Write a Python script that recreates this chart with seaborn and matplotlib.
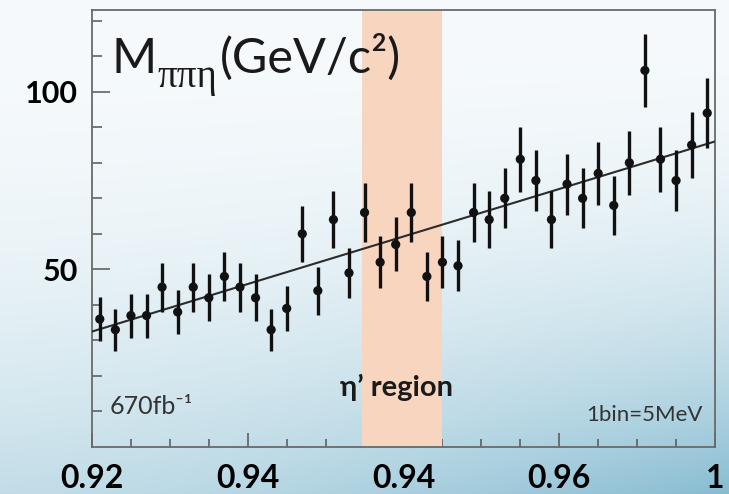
import numpy as np
import pandas as pd
import matplotlib
matplotlib.use("Agg")
import matplotlib.pyplot as plt
import seaborn as sns
from matplotlib.ticker import FixedLocator

# --- data ---------------------------------------------------------------
bin_centers = [0.921, 0.923, 0.925, 0.927, 0.929, 0.931, 0.933, 0.935,
               0.937, 0.939, 0.941, 0.943, 0.945, 0.947, 0.949, 0.951,
               0.953, 0.955, 0.957, 0.959, 0.961, 0.963, 0.965, 0.967,
               0.969, 0.971, 0.973, 0.975, 0.977, 0.979, 0.981, 0.983,
               0.985, 0.987, 0.989, 0.991, 0.993, 0.995, 0.997, 0.999]
counts = [36, 33, 37, 37, 45, 38, 45, 42, 48, 45,
          42, 33, 39, 60, 44, 64, 49, 66, 52, 57,
          66, 48, 52, 51, 66, 64, 70, 81, 75, 64,
          74, 70, 77, 68, 80, 106, 81, 75, 85, 94]
count_errors = [6.2, 5.9, 6.2, 6.2, 6.9, 6.3, 6.9, 6.6, 7.0, 6.9,
                6.6, 5.9, 6.4, 7.8, 6.8, 8.1, 7.1, 8.2, 7.3, 7.6,
                8.2, 7.0, 7.3, 7.2, 8.2, 8.1, 8.4, 9.1, 8.7, 8.1,
                8.6, 8.4, 8.8, 8.3, 9.0, 10.3, 9.1, 8.7, 9.3, 9.8]

fit_x = [0.92, 1.00]
fit_y = [32.5, 86.0]

eta_prime_region = [0.9547, 0.9650]

x_tick_values = [0.92, 0.94, 0.96, 0.98, 1.00]
x_tick_labels = ["0.92", "0.94", "0.94", "0.96", "1"]
y_tick_values = [50, 100]
y_tick_labels = ["50", "100"]

hist = pd.DataFrame({"mass": bin_centers, "events": counts, "err": count_errors})
fit = pd.DataFrame({"mass": fit_x, "events": fit_y})

# --- style --------------------------------------------------------------
sns.set_style("ticks")
plt.rcParams["font.family"] = ["Lato", "DejaVu Sans"]

fig = plt.figure(figsize=(7.29, 4.94), dpi=100)

# slide-like background gradient, darkening towards the lower right
bg = fig.add_axes([0, 0, 1, 1], zorder=-10)
h, w = 300, 450
yy, xx = np.mgrid[0:1:h * 1j, 0:1:w * 1j]
weight = np.clip(yy ** 2.2 * (0.45 + 0.5 * xx ** 1.5), 0, 1)
top = np.array([246, 250, 252]) / 255
bottom = np.array([130, 185, 207]) / 255
img = top[None, None, :] * (1 - weight[..., None]) + bottom[None, None, :] * weight[..., None]
bg.imshow(img, aspect="auto", extent=[0, 1, 0, 1], origin="upper")
bg.set_axis_off()

ax = fig.add_axes([92 / 729, 47 / 494, 623 / 729, 437 / 494])
ax.set_facecolor("none")

ax.axvspan(*eta_prime_region, color="#F7D5BF", zorder=1, lw=0)

sns.lineplot(data=fit, x="mass", y="events", ax=ax, color="#2b2b2b",
             lw=1.5, zorder=3)
ax.errorbar(hist["mass"], hist["events"], yerr=hist["err"], fmt="none",
            ecolor="#111111", elinewidth=2.4, capsize=0, zorder=4)
sns.scatterplot(data=hist, x="mass", y="events", ax=ax, color="#111111",
                s=44, edgecolor="none", zorder=5)

ax.set_xlim(0.92, 1.00)
ax.set_ylim(0, 123)
ax.set_xlabel("")
ax.set_ylabel("")

ax.xaxis.set_major_locator(FixedLocator(x_tick_values))
ax.set_xticklabels(x_tick_labels)
ax.xaxis.set_minor_locator(FixedLocator(
    [v for v in np.arange(0.925, 1.0, 0.005) if min(abs(v - t) for t in x_tick_values) > 1e-6]))
ax.yaxis.set_major_locator(FixedLocator(y_tick_values))
ax.set_yticklabels(y_tick_labels)
ax.yaxis.set_minor_locator(FixedLocator([10, 20, 30, 40, 60, 70, 80, 90, 110, 120]))

ax.tick_params(axis="x", which="major", direction="in", length=10, width=1.1,
               color="#555555", pad=12, labelsize=23, labelcolor="black")
ax.tick_params(axis="x", which="minor", direction="in", length=5.5, width=1.1,
               color="#555555")
ax.tick_params(axis="y", which="major", direction="in", length=13, width=1.1,
               color="#555555", pad=10, labelsize=22, labelcolor="black")
ax.tick_params(axis="y", which="minor", direction="in", length=7, width=1.1,
               color="#555555")
for lab in ax.get_xticklabels() + ax.get_yticklabels():
    lab.set_fontweight("bold")

for side in ["left", "right", "top", "bottom"]:
    ax.spines[side].set_visible(True)
    ax.spines[side].set_color("#6a6a6a")
    ax.spines[side].set_linewidth(1.3)

# mass label: "M", serif subscript, then units, laid out piece by piece
renderer = fig.canvas.get_renderer()
ax_w = ax.get_window_extent(renderer).width
ax_h = ax.get_window_extent(renderer).height
x0, y0 = 0.032, 0.856
t_m = ax.text(x0, y0, "M", transform=ax.transAxes, fontsize=35,
              color="#1a1a1a", ha="left", va="baseline", zorder=6)
x1 = x0 + t_m.get_window_extent(renderer).width / ax_w
t_sub = ax.text(x1, y0 - 14 / ax_h, "ππη", transform=ax.transAxes, fontsize=28,
                family=["Liberation Serif", "DejaVu Serif"], color="#1a1a1a",
                ha="left", va="baseline", zorder=6)
x2 = x1 + (t_sub.get_window_extent(renderer).width + 3) / ax_w
ax.text(x2, y0, "(GeV/c²)", transform=ax.transAxes, fontsize=35,
        color="#1a1a1a", ha="left", va="baseline", zorder=6)

ax.text(0.029, 0.076, "670fb⁻¹", transform=ax.transAxes, fontsize=18,
        color="#333333", ha="left", va="baseline", zorder=6)
ax.text(0.981, 0.059, "1bin=5MeV", transform=ax.transAxes, fontsize=16,
        color="#333333", ha="right", va="baseline", zorder=6)
ax.text(0.488, 0.117, "η’ region", transform=ax.transAxes, fontsize=21,
        fontweight="bold", color="#1a1a1a", ha="center", va="baseline",
        family=["Lato", "DejaVu Sans"], zorder=6)

fig.savefig("out.png", dpi=100)
